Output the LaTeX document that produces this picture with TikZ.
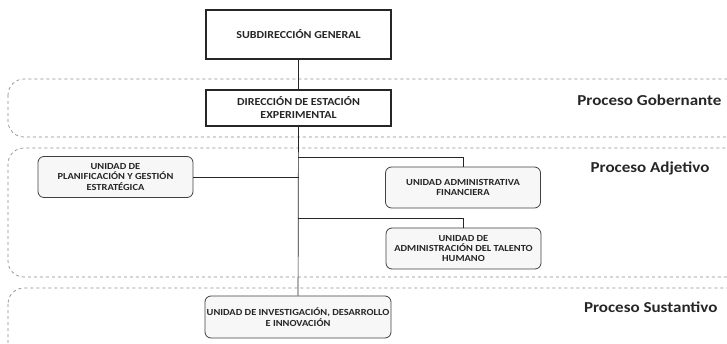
\documentclass[tikz,border=0pt]{standalone}
\usepackage{fontspec}
\setmainfont{Carlito}
\newfontfamily\widefont[FakeStretch=1.12]{Carlito}
\usetikzlibrary{positioning}
\tikzset{
  headbox/.style={draw=black!85, line width=1.8pt, fill=white, align=center,
    minimum width=185pt, font=\widefont\bfseries\fontsize{10.7}{13}\selectfont, text=black!85},
  unitbox/.style={draw=black!75, line width=0.8pt, rounded corners=6pt, fill=black!3,
    align=center, minimum width=155pt, minimum height=41pt, inner sep=1pt,
    font=\widefont\bfseries\fontsize{9.3}{10.3}\selectfont, text=black!85},
  band/.style={draw=black!45, dashed, line width=0.7pt, rounded corners=16pt},
  proclabel/.style={font=\widefont\bfseries\fontsize{15.2}{17}\selectfont, text=black!85, anchor=east},
  link/.style={draw=black!85, line width=0.7pt}
}
\begin{document}
\begin{tikzpicture}[x=1pt, y=-1pt]
    \path[use as bounding box, clip] (0,0) rectangle (727,344);
    % process bands
    \draw[band] (8,79) rectangle (745,137);
    \draw[band] (8,148) rectangle (745,277);
    \draw[band] (8,288) rectangle (745,365);
    \node[proclabel] (gob) at (725,100) {Proceso Gobernante};
    \node[proclabel] (adj) at (713,168) {Proceso Adjetivo};
    \node[proclabel] (sus) at (721,307) {Proceso Sustantivo};

    \node[headbox, minimum height=49pt] (sub) at (298.5,34.5) {SUBDIRECCIÓN GENERAL};
    \node[headbox, minimum height=36pt] (dir) at (298.5,108) {DIRECCIÓN DE ESTACIÓN\\EXPERIMENTAL};

    \node[unitbox] (plan) at (115.5,177) {UNIDAD DE\\PLANIFICACIÓN Y GESTIÓN\\ESTRATÉGICA};
    \node[unitbox] (fin) at (463,187.5) {UNIDAD ADMINISTRATIVA\\FINANCIERA};
    \node[unitbox] (tal) at (463.5,248.5) {UNIDAD DE\\ADMINISTRACIÓN DEL TALENTO\\HUMANO};
    \node[unitbox, minimum width=186pt, minimum height=42pt] (inv) at (298,317) {UNIDAD DE INVESTIGACIÓN, DESARROLLO\\E INNOVACIÓN};

    \coordinate (j1) at (298,157);
    \coordinate (j2) at (298,218);
    \draw[link] (sub) -- (dir);
    \draw[link] (dir) -- (inv);
    \draw[link] (plan.east) -- (plan.east -| dir.south);
    \draw[link] (j1) -| (fin.north);
    \draw[link] (j2) -| (tal.north);
\end{tikzpicture}
\end{document}
